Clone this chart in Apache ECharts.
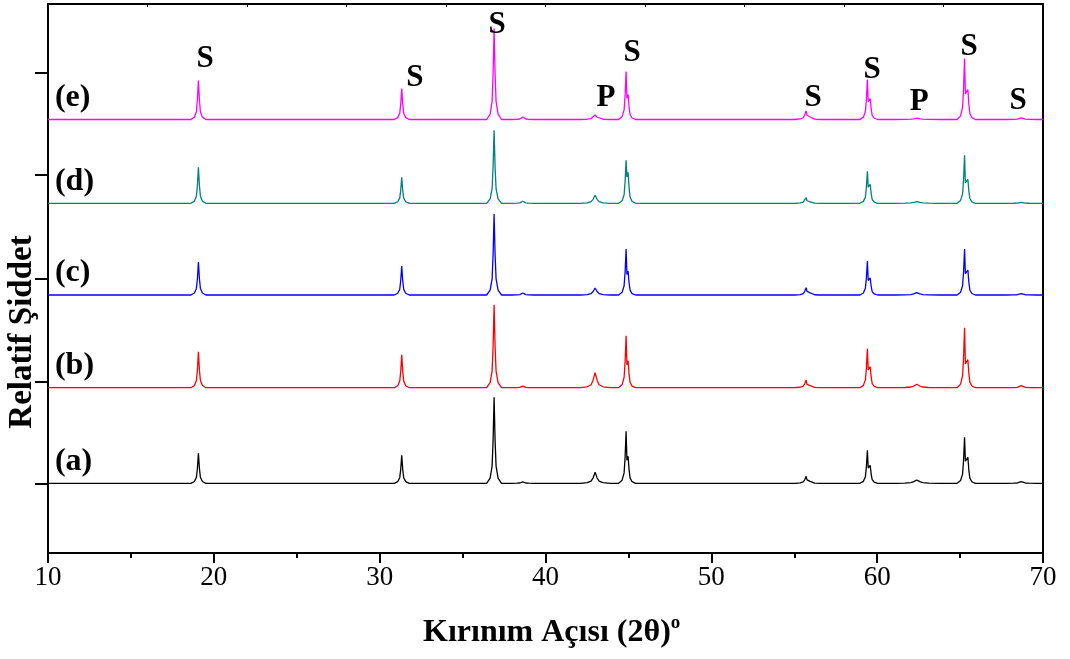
<!DOCTYPE html>
<html>
<head>
<meta charset="utf-8">
<script src="https://cdn.jsdelivr.net/npm/echarts@6/dist/echarts.min.js"></script>
<style>
  html, body { margin: 0; padding: 0; background: #fff; }
  #chart { width: 1070px; height: 659px; }
</style>
</head>
<body>
<div id="chart"></div>
<script>
// peak positions (2θ, degrees), shared by all samples
var peakPos = [19.07, 31.33, 36.90, 38.63, 42.99, 44.86, 55.72, 59.41, 62.39, 65.27, 68.69];
// Kα2 shoulder positions (null = none)
var shoulderPos = [null, null, null, null, null, 44.98, 55.87, 59.58, null, 65.47, null];
// relative peak width (broad P peaks)
var peakWidth = [1, 1, 1, 1.5, 2, 1, 1.5, 1, 3, 1, 2];

// peak heights per sample (a.u.)
var heightA = [30, 28, 86, 1.5, 11, 52, 7, 33, 3.3, 46, 1.6];
var heightB = [36, 33, 83, 1.5, 15, 52, 7.7, 39, 3.4, 60, 2];
var heightC = [33, 29, 81, 2, 7, 46, 7.3, 34, 2.3, 46, 1.3];
var heightD = [36, 26, 73, 2, 8, 43, 5.7, 32, 1.7, 48, 1];
var heightE = [39, 31, 91, 2.5, 4.5, 48, 8.7, 40, 1.4, 61, 1.7];
// shoulder heights per sample
var shoulderA = [0, 0, 0, 0, 0, 27, 4, 18, 0, 26, 0];
var shoulderB = [0, 0, 0, 0, 0, 27, 4, 21, 0, 28, 0];
var shoulderC = [0, 0, 0, 0, 0, 24, 4.3, 17, 0, 25, 0];
var shoulderD = [0, 0, 0, 0, 0, 31, 3, 19, 0, 24, 0];
var shoulderE = [0, 0, 0, 0, 0, 25, 5, 21, 0, 30, 0];
// vertical stacking offset of each pattern
var offsets = [0, 95.6, 188.3, 280, 363.8];
var sampleNames = ['(a)', '(b)', '(c)', '(d)', '(e)'];
var colors = ['#000000', '#ff0000', '#0000ff', '#008080', '#ff00ff'];

// phase tags above the peaks of (e)
var tagText = ['S', 'S', 'S', 'P', 'S', 'S', 'S', 'P', 'S', 'S'];
var tagX = [19.47, 32.13, 37.08, 43.65, 45.22, 56.14, 59.70, 62.53, 65.55, 68.50];
var tagY = [424, 405, 458, 385, 430, 385, 413, 381, 436, 382];

var yTicks = [0, 102, 205, 309, 411];
var topTicks = [16, 22, 28, 34, 40, 46, 52, 58, 64];

// normalised peak profile [dx in degrees, fraction of height]
var profile = [[-0.45, 0], [-0.24, 0.06], [-0.12, 0.2], [-0.06, 0.5], [0, 1], [0.06, 0.5], [0.12, 0.2], [0.24, 0.06], [0.45, 0]];

function buildPattern(heights, shoulders, off) {
  var pts = [[10, off]];
  for (var i = 0; i < peakPos.length; i++) {
    var p = peakPos[i], h = heights[i], w = peakWidth[i];
    var p2 = shoulderPos[i], h2 = shoulders[i];
    if (p2 == null) {
      profile.forEach(function (q) { pts.push([p + q[0] * w, off + q[1] * h]); });
    } else {
      profile.forEach(function (q) { if (q[0] < 0) pts.push([p + q[0] * w, off + q[1] * h]); });
      pts.push([p, off + h]);
      pts.push([p + 0.05, off + h2 * 0.85]);
      profile.forEach(function (q) { if (q[0] >= 0) pts.push([p2 + q[0] * w, off + q[1] * h2]); });
    }
  }
  pts.push([70, off]);
  return pts;
}

var allHeights = [heightA, heightB, heightC, heightD, heightE];
var allShoulders = [shoulderA, shoulderB, shoulderC, shoulderD, shoulderE];

var series = [];
for (var k = 0; k < 5; k++) {
  series.push({
    name: sampleNames[k],
    type: 'line',
    data: buildPattern(allHeights[k], allShoulders[k], offsets[k]),
    showSymbol: false,
    lineStyle: { color: colors[k], width: 1.3 },
    z: 2
  });
}

// sample labels (a)-(e)
series.push({
  type: 'scatter',
  symbolSize: 0,
  itemStyle: { opacity: 1 },
  data: sampleNames.map(function (n, k) { return { name: n, value: [10.42, offsets[k] + 22] }; }),
  label: {
    show: true, position: 'right', distance: 0, formatter: '{b}',
    fontFamily: 'Liberation Serif', fontWeight: 'bold', fontSize: 32, color: '#000'
  },
  silent: true
});
// S / P tags
series.push({
  type: 'scatter',
  symbolSize: 0,
  itemStyle: { opacity: 1 },
  data: tagText.map(function (t, i) { return { name: t, value: [tagX[i], tagY[i]] }; }),
  label: {
    show: true, position: 'inside', formatter: '{b}',
    fontFamily: 'Liberation Serif', fontWeight: 'bold', fontSize: 31, color: '#000'
  },
  silent: true
});

var chart = echarts.init(document.getElementById('chart'));
chart.setOption({
  animation: false,
  backgroundColor: '#fff',
  grid: { left: 48, right: 27, top: 4, bottom: 106 },
  xAxis: [{
    type: 'value', min: 10, max: 70, interval: 10, position: 'bottom',
    axisLine: { onZero: false, lineStyle: { color: '#000', width: 2 } },
    axisTick: { length: 10, lineStyle: { color: '#000', width: 2 } },
    minorTick: { show: true, splitNumber: 2, length: 5, lineStyle: { color: '#000', width: 2 } },
    axisLabel: { fontFamily: 'Liberation Serif', fontSize: 27, color: '#000', margin: 11 },
    splitLine: { show: false }
  }, {
    type: 'value', min: 10, max: 70, position: 'top',
    axisLine: { onZero: false, lineStyle: { color: '#000', width: 2 } },
    axisTick: { inside: true, length: 3, customValues: topTicks, lineStyle: { color: '#000', width: 1 } },
    axisLabel: { show: false },
    splitLine: { show: false }
  }],
  yAxis: [{
    type: 'value', min: -69.7, max: 479.3,
    axisLine: { show: true, onZero: false, lineStyle: { color: '#000', width: 2 } },
    axisTick: { show: true, length: 13, customValues: yTicks, lineStyle: { color: '#000', width: 2 } },
    axisLabel: { show: false },
    splitLine: { show: false }
  }, {
    type: 'value', min: -69.7, max: 479.3, position: 'right',
    axisLine: { show: true, onZero: false, lineStyle: { color: '#000', width: 2 } },
    axisTick: { show: false },
    axisLabel: { show: false },
    splitLine: { show: false }
  }],
  graphic: [{
    type: 'text', left: 423, top: 614,
    style: {
      text: '{m|Kırınım Açısı (2θ)}{s|o}',
      rich: {
        m: { fontFamily: 'Liberation Serif', fontWeight: 'bold', fontSize: 32, fill: '#000', lineHeight: 38 },
        s: { fontFamily: 'Liberation Serif', fontWeight: 'bold', fontSize: 19, fill: '#000', lineHeight: 19, verticalAlign: 'top' }
      }
    }
  }, {
    type: 'text', x: 22, y: 332, rotation: Math.PI / 2,
    style: {
      text: 'Relatif Şiddet', align: 'center', verticalAlign: 'middle',
      fontFamily: 'Liberation Serif', fontWeight: 'bold', fontSize: 33, fill: '#000'
    }
  }],
  series: series
});
</script>
</body>
</html>
